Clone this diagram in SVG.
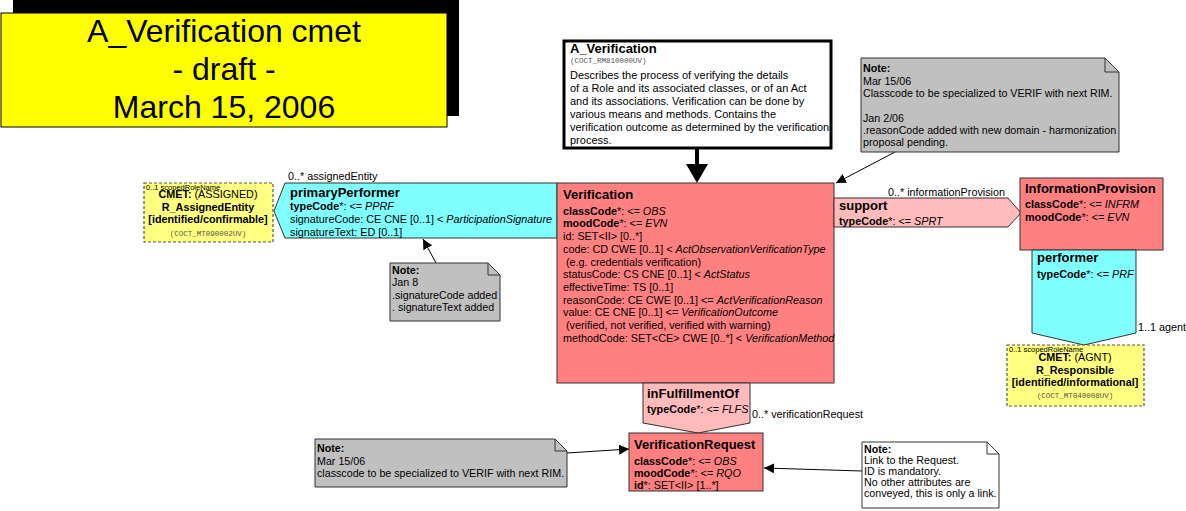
<svg xmlns="http://www.w3.org/2000/svg" width="1186" height="511" viewBox="0 0 1186 511">
<style>
text{font-family:"Liberation Sans",Arial,sans-serif;font-size:10.8px;fill:#000}
.b{font-weight:bold}
.h{font-weight:bold;font-size:13px}
.i{font-style:italic}
.m{font-family:"Liberation Mono","Courier New",monospace;font-size:7.5px;fill:#555}
.t{font-size:7.5px}
.n{font-size:10.7px}
.c{text-anchor:middle}
.big{font-size:32px}
.cls{fill:#FF8080;stroke:#333;stroke-width:1}
.pink{fill:#FFBBBB;stroke:#333;stroke-width:1}
.cyan{fill:#80FFFF;stroke:#333;stroke-width:1}
.cmet{fill:#FFFF80;stroke:#555;stroke-width:1.2;stroke-dasharray:3,2}
.note{fill:#C0C0C0;stroke:#333;stroke-width:1}
.wnote{fill:#FFFFFF;stroke:#333;stroke-width:1}
.fold{fill:none;stroke:#333;stroke-width:1}
.ln{stroke:#000;stroke-width:1;fill:none}
</style>
<defs>
<marker id="ah" viewBox="0 0 10 10" refX="10" refY="5" markerWidth="10" markerHeight="10" markerUnits="userSpaceOnUse" orient="auto">
<path d="M0,0 L10,5 L0,10 z" fill="#000"/>
</marker>
</defs>

<g id="title">
<rect x="13" y="0" width="446" height="116" fill="#000"/>
<rect x="1" y="13" width="446" height="114" fill="#FFFF00" stroke="#000" stroke-width="1"/>
<text x="224" y="42" class="c big">A_Verification cmet</text>
<text x="224" y="80" class="c big">- draft -</text>
<text x="224" y="118" class="c big">March 15, 2006</text>
</g>

<g id="A_Verification">
<rect x="564" y="41" width="267" height="107" fill="#fff" stroke="#000" stroke-width="3"/>
<text x="570" y="53" class="h">A_Verification</text>
<text x="570" y="63" class="m">(COCT_RM810000UV)</text>
<text x="570" y="79" style="font-size:11px">Describes the process of verifying the details</text>
<text x="570" y="92" style="font-size:11px">of a Role and its associated classes, or of an Act</text>
<text x="570" y="105" style="font-size:11px">and its associations. Verification can be done by</text>
<text x="570" y="118" style="font-size:11px">various means and methods. Contains the</text>
<text x="570" y="131" style="font-size:11px">verification outcome as determined by the verification</text>
<text x="570" y="144" style="font-size:11px">process.</text>
</g>

<g id="connectors">
<line x1="697" y1="148" x2="697" y2="166" stroke="#000" stroke-width="4"/>
<path d="M686,164 L708,164 L697,183 z" fill="#000"/>
<line x1="895" y1="152" x2="836" y2="183" class="ln" marker-end="url(#ah)"/>
<line x1="436" y1="263" x2="423" y2="239" class="ln" marker-end="url(#ah)"/>
<line x1="567" y1="453" x2="629" y2="449" class="ln" marker-end="url(#ah)"/>
<line x1="862" y1="471" x2="764" y2="468" class="ln" marker-end="url(#ah)"/>
</g>

<g id="primaryPerformer">
<path d="M285,183 L557,183 L557,238 L285,238 L274,211 z" class="cyan"/>
<text x="290" y="197" class="h">primaryPerformer</text>
<text x="290" y="210"><tspan class="b">typeCode</tspan>*: &lt;= <tspan class="i">PPRF</tspan></text>
<text x="290" y="223">signatureCode: CE CNE [0..1] &lt; <tspan class="i">ParticipationSignature</tspan></text>
<text x="290" y="236">signatureText: ED [0..1]</text>
<text x="288" y="180">0..* assignedEntity</text>
</g>

<g id="cmet_assigned">
<rect x="144" y="183" width="129" height="59" class="cmet"/>
<text x="146" y="189.5" class="t">0..1 scopedRoleName</text>
<text x="208" y="198" class="c"><tspan class="b">CMET:</tspan> (ASSIGNED)</text>
<text x="208" y="211" class="c b">R_AssignedEntity</text>
<text x="208" y="223" class="c b">[identified/confirmable]</text>
<text x="208" y="236" class="c m">(COCT_MT090002UV)</text>
</g>

<g id="note_jan8">
<path d="M390,263 L488,263 L500,275 L500,321 L390,321 z" class="note"/>
<path d="M488,263 L488,275 L500,275" class="fold"/>
<text x="392" y="274" class="n b">Note:</text>
<text x="392" y="286" class="n">Jan 8</text>
<text x="392" y="299" class="n">.signatureCode added</text>
<text x="392" y="311" class="n">. signatureText added</text>
</g>

<g id="Verification">
<rect x="557" y="183" width="277" height="200" class="cls"/>
<text x="563" y="199" class="h">Verification</text>
<text x="563" y="215"><tspan class="b">classCode</tspan>*: &lt;= <tspan class="i">OBS</tspan></text>
<text x="563" y="227"><tspan class="b">moodCode</tspan>*: &lt;= <tspan class="i">EVN</tspan></text>
<text x="563" y="240">id: SET&lt;II&gt; [0..*]</text>
<text x="563" y="253">code: CD CWE [0..1] &lt; <tspan class="i">ActObservationVerificationType</tspan></text>
<text x="563" y="266">&#160;(e.g. credentials verification)</text>
<text x="563" y="278">statusCode: CS CNE [0..1] &lt; <tspan class="i">ActStatus</tspan></text>
<text x="563" y="291">effectiveTime: TS [0..1]</text>
<text x="563" y="304">reasonCode: CE CWE [0..1] &lt;= <tspan class="i">ActVerificationReason</tspan></text>
<text x="563" y="316">value: CE CNE [0..1] &lt;= <tspan class="i">VerificationOutcome</tspan></text>
<text x="563" y="329">&#160;(verified, not verified, verified with warning)</text>
<text x="563" y="342">methodCode: SET&lt;CE&gt; CWE [0..*] &lt; <tspan class="i">VerificationMethod</tspan></text>
</g>

<g id="note_top">
<path d="M861,58 L1105,58 L1119,72 L1119,152 L861,152 z" class="note"/>
<path d="M1105,58 L1105,72 L1119,72" class="fold"/>
<text x="863" y="72" class="n b">Note:</text>
<text x="863" y="84.5" class="n">Mar 15/06</text>
<text x="863" y="97" class="n">Classcode to be specialized to VERIF with next RIM.</text>
<text x="863" y="121.5" class="n">Jan 2/06</text>
<text x="863" y="134" class="n">.reasonCode added with new domain - harmonization</text>
<text x="863" y="146" class="n">proposal pending.</text>
</g>

<g id="support">
<path d="M834,198 L1008,198 L1021,213 L1008,227 L834,227 z" class="pink"/>
<text x="839" y="210" class="h">support</text>
<text x="839" y="225"><tspan class="b">typeCode</tspan>*: &lt;= <tspan class="i">SPRT</tspan></text>
<text x="1005" y="196" style="text-anchor:end">0..* informationProvision</text>
</g>

<g id="InformationProvision">
<rect x="1020" y="178" width="143" height="72" class="cls"/>
<text x="1025" y="193" class="h">InformationProvision</text>
<text x="1025" y="208"><tspan class="b">classCode</tspan>*: &lt;= <tspan class="i">INFRM</tspan></text>
<text x="1025" y="221"><tspan class="b">moodCode</tspan>*: &lt;= <tspan class="i">EVN</tspan></text>
</g>

<g id="performer">
<path d="M1032,250 L1136,250 L1136,333 L1084,345 L1032,333 z" class="cyan"/>
<text x="1037" y="262" class="h">performer</text>
<text x="1037" y="278"><tspan class="b">typeCode</tspan>*: &lt;= <tspan class="i">PRF</tspan></text>
<text x="1138" y="331">1..1 agent</text>
</g>

<g id="cmet_agnt">
<rect x="1007" y="345" width="137" height="61" class="cmet"/>
<text x="1009" y="351.5" class="t">0..1 scopedRoleName</text>
<text x="1075" y="361" class="c"><tspan class="b">CMET:</tspan> (AGNT)</text>
<text x="1075" y="374" class="c b">R_Responsible</text>
<text x="1075" y="386" class="c b">[identified/informational]</text>
<text x="1075" y="398" class="c m">(COCT_MT040008UV)</text>
</g>

<g id="inFulfillmentOf">
<path d="M643,383 L750,383 L750,423 L698,433 L643,423 z" class="pink"/>
<text x="647" y="398" class="h">inFulfillmentOf</text>
<text x="647" y="413"><tspan class="b">typeCode</tspan>*: &lt;= <tspan class="i">FLFS</tspan></text>
<text x="752" y="418">0..* verificationRequest</text>
</g>

<g id="VerificationRequest">
<rect x="629" y="433" width="134" height="58" class="cls"/>
<text x="634" y="449" class="h">VerificationRequest</text>
<text x="634" y="465"><tspan class="b">classCode</tspan>*: &lt;= <tspan class="i">OBS</tspan></text>
<text x="634" y="477"><tspan class="b">moodCode</tspan>*: &lt;= <tspan class="i">RQO</tspan></text>
<text x="634" y="489"><tspan class="b">id</tspan>*: SET&lt;II&gt; [1..*]</text>
</g>

<g id="note_bottom_left">
<path d="M315,439 L555,439 L567,451 L567,487 L315,487 z" class="note"/>
<path d="M555,439 L555,451 L567,451" class="fold"/>
<text x="317" y="452" class="n b">Note:</text>
<text x="317" y="464.5" class="n">Mar 15/06</text>
<text x="317" y="477" class="n">classcode to be specialized to VERIF with next RIM.</text>
</g>

<g id="note_bottom_right">
<path d="M862,442 L987,442 L999,454 L999,508 L862,508 z" class="wnote"/>
<path d="M987,442 L987,454 L999,454" class="fold"/>
<text x="864" y="453" class="n b">Note:</text>
<text x="864" y="464" class="n">Link to the Request.</text>
<text x="864" y="475" class="n">ID is mandatory.</text>
<text x="864" y="486" class="n">No other attributes are</text>
<text x="864" y="497" class="n">conveyed, this is only a link.</text>
</g>
</svg>
